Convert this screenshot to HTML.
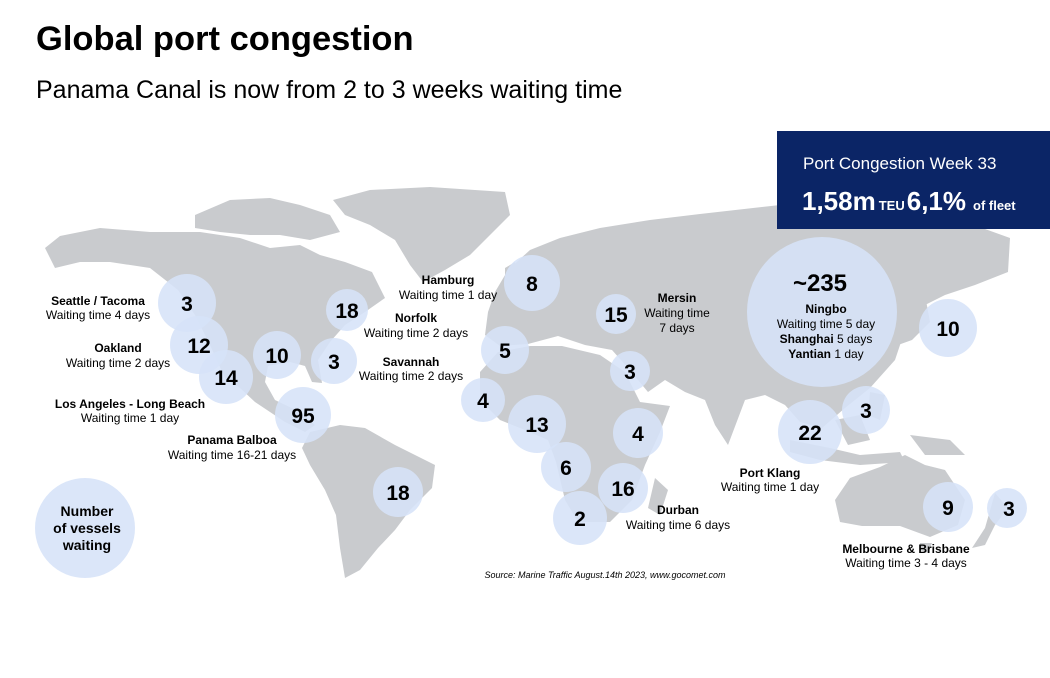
<!DOCTYPE html>
<html><head><meta charset="utf-8"><style>
html,body{margin:0;padding:0;background:#fff;}
body{width:1050px;height:678px;position:relative;overflow:hidden;font-family:"Liberation Sans",Arial,sans-serif;}
h1{position:absolute;left:36px;top:20px;margin:0;font-size:34.5px;font-weight:bold;color:#000;}
.sub{position:absolute;left:36px;top:76px;font-size:25px;color:#000;}
svg{position:absolute;left:0;top:0;}
</style></head><body>
<svg width="1050" height="678" viewBox="0 0 1050 678" font-family="Liberation Sans, Arial, sans-serif">
<g fill="#c9cbce">
<polygon points="333,200 370,190 430,187 505,192 510,215 490,235 470,255 445,270 423,282 410,265 395,240 370,225 345,215"/>
<polygon points="195,215 230,200 270,198 300,205 330,215 340,232 310,240 280,235 250,235 220,232 195,228"/>
<polygon points="45,248 60,236 100,228 150,232 200,232 240,238 270,248 300,245 320,255 345,262 372,272 385,298 365,312 345,325 330,342 318,360 322,383 312,382 305,366 290,362 268,366 265,382 275,400 300,412 315,425 305,432 285,422 255,402 240,388 225,378 210,345 195,315 178,290 150,268 110,262 80,262 55,268"/>
<polygon points="310,432 340,425 365,428 395,445 435,465 432,488 410,510 395,530 378,548 360,570 345,578 340,548 336,515 325,490 310,465 302,448"/>
<polygon points="495,292 508,270 530,250 560,238 600,228 650,220 700,214 780,205 850,210 900,214 960,220 1010,238 1008,272 975,285 945,295 925,305 905,330 895,360 870,388 845,408 822,428 800,422 785,405 765,395 745,400 728,445 715,425 705,400 685,392 665,380 648,392 628,368 612,350 585,345 558,336 528,344 500,346 485,335 488,312"/>
<polygon points="480,372 498,352 530,346 562,346 600,355 625,372 640,402 670,406 660,432 645,465 632,500 610,522 578,522 565,500 556,462 548,440 525,430 500,420 480,400"/>
<polygon points="655,478 668,490 660,515 648,508"/>
<polygon points="505,268 515,262 518,290 505,292"/>
<polygon points="912,288 925,295 930,322 912,340 898,345 905,325 915,310"/>
<polygon points="790,440 830,448 860,455 900,452 905,462 860,465 820,460 790,452"/>
<polygon points="835,420 860,415 870,440 848,445"/>
<polygon points="870,392 885,395 880,420 868,415"/>
<polygon points="910,435 950,440 965,455 925,455"/>
<polygon points="835,500 850,478 880,467 905,455 925,465 945,470 965,500 958,525 930,537 900,526 862,526 840,522"/>
<polygon points="920,543 932,543 928,553 920,550"/>
<polygon points="995,493 1008,508 995,525 985,545 972,548 985,528"/>
</g>
<g fill="#d6e3f8" fill-opacity="0.88">
<circle cx="187" cy="303" r="29"/><circle cx="199" cy="345" r="29"/><circle cx="226" cy="377" r="27"/>
<circle cx="277" cy="355" r="24"/><circle cx="347" cy="310" r="21"/><circle cx="334" cy="361" r="23"/>
<circle cx="303" cy="415" r="28"/><circle cx="398" cy="492" r="25"/><circle cx="85" cy="528" r="50"/>
<circle cx="532" cy="283" r="28"/><circle cx="505" cy="350" r="24"/><circle cx="483" cy="400" r="22"/>
<circle cx="537" cy="424" r="29"/><circle cx="566" cy="467" r="25"/><circle cx="580" cy="518" r="27"/>
<circle cx="623" cy="488" r="25"/><circle cx="638" cy="433" r="25"/><circle cx="630" cy="371" r="20"/>
<circle cx="616" cy="314" r="20"/><circle cx="822" cy="312" r="75"/><circle cx="948" cy="328" r="29"/>
<circle cx="866" cy="410" r="24"/><circle cx="810" cy="432" r="32"/><circle cx="948" cy="507" r="25"/>
<circle cx="1007" cy="508" r="20"/>
</g>
<g font-weight="bold" font-size="21" fill="#000" text-anchor="middle">
<text x="187" y="311">3</text><text x="199" y="353">12</text><text x="226" y="385">14</text>
<text x="277" y="363">10</text><text x="347" y="318">18</text><text x="334" y="369">3</text>
<text x="303" y="423">95</text><text x="398" y="500">18</text>
<text x="532" y="291">8</text><text x="505" y="358">5</text><text x="483" y="408">4</text>
<text x="537" y="432">13</text><text x="566" y="475">6</text><text x="580" y="526">2</text>
<text x="623" y="496">16</text><text x="638" y="441">4</text><text x="630" y="379">3</text>
<text x="616" y="322">15</text><text x="820" y="291" font-size="24">~235</text><text x="948" y="336">10</text>
<text x="866" y="418">3</text><text x="810" y="440">22</text><text x="948" y="515">9</text>
<text x="1009" y="516">3</text>
</g>
<g font-size="12" fill="#000" text-anchor="middle">
<text x="98" y="305" font-weight="bold">Seattle / Tacoma</text><text x="98" y="319">Waiting time 4 days</text>
<text x="118" y="352" font-weight="bold">Oakland</text><text x="118" y="367">Waiting time 2 days</text>
<text x="130" y="408" font-weight="bold">Los Angeles - Long Beach</text><text x="130" y="422">Waiting time 1 day</text>
<text x="232" y="444" font-weight="bold">Panama Balboa</text><text x="232" y="459">Waiting time 16-21 days</text>
<text x="448" y="284" font-weight="bold">Hamburg</text><text x="448" y="299">Waiting time 1 day</text>
<text x="416" y="322" font-weight="bold">Norfolk</text><text x="416" y="337">Waiting time 2 days</text>
<text x="411" y="366" font-weight="bold">Savannah</text><text x="411" y="380">Waiting time 2 days</text>
<text x="677" y="302" font-weight="bold">Mersin</text><text x="677" y="317">Waiting time</text><text x="677" y="332">7 days</text>
<text x="826" y="313" font-weight="bold">Ningbo</text><text x="826" y="328">Waiting time 5 day</text>
<text x="826" y="343"><tspan font-weight="bold">Shanghai</tspan> 5 days</text>
<text x="826" y="358"><tspan font-weight="bold">Yantian</tspan> 1 day</text>
<text x="770" y="477" font-weight="bold">Port Klang</text><text x="770" y="491">Waiting time 1 day</text>
<text x="678" y="514" font-weight="bold">Durban</text><text x="678" y="529">Waiting time 6 days</text>
<text x="906" y="553" font-weight="bold">Melbourne &amp; Brisbane</text><text x="906" y="567">Waiting time 3 - 4 days</text>
</g>
<g font-size="14" font-weight="bold" fill="#000" text-anchor="middle">
<text x="87" y="516">Number</text><text x="87" y="533">of vessels</text><text x="87" y="550">waiting</text>
</g>
<text x="605" y="578" font-size="9" font-style="italic" fill="#000" text-anchor="middle">Source: Marine Traffic August.14th 2023, www.gocomet.com</text>
<rect x="777" y="131" width="273" height="98" fill="#0b2566"/>
<text x="803" y="169" font-size="17" fill="#fff">Port Congestion Week 33</text>
<text x="802" y="210" fill="#fff" font-weight="bold"><tspan font-size="26">1,58m</tspan><tspan font-size="13" dx="3">TEU</tspan><tspan font-size="26" dx="2">6,1%</tspan><tspan font-size="13" dx="7">of fleet</tspan></text>
</svg>
<h1>Global port congestion</h1>
<div class="sub">Panama Canal is now from 2 to 3 weeks waiting time</div>
</body></html>
